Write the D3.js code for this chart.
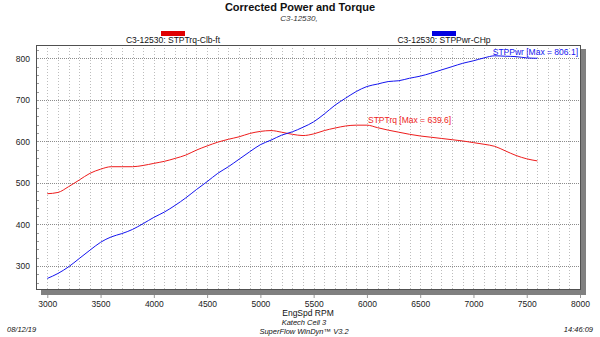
<!DOCTYPE html>
<html><head><meta charset="utf-8">
<script src="https://cdn.jsdelivr.net/npm/d3@7"></script>
<style>
body{margin:0;background:#fff;}
svg{display:block;font-family:"Liberation Sans",Arial,sans-serif;}
</style></head><body>
<svg id="c" width="600" height="337"></svg>
<script>
const rpm = [3000,3100,3200,3300,3400,3500,3600,3700,3800,3900,4000,4100,4200,4300,4400,4500,4600,4700,4800,4900,5000,5100,5200,5300,5400,5500,5600,5700,5800,5900,6000,6100,6200,6300,6400,6500,6600,6700,6800,6900,7000,7100,7200,7300,7400,7500,7600];
const torque = [474,477,491,507,523,533,539,539,539,542,547,552,559,567,579,589,598,605,611,619,624,626,622,617,614,618,626,632,637,639,639,633,627,622,617,613,610,607,604,601,597,593,588,577,566,558,553];
const power = [270,282,298,318,338,357,370,378,388,402,417,430,446,464,484,503,523,539,557,575,592,603,615,623,634,647,666,687,704,720,732,738,744,746,752,757,764,772,780,788,794,801,806,805,804,801,800];
const xTicks = [3000,3500,4000,4500,5000,5500,6000,6500,7000,7500,8000];
const yTicks = [300,400,500,600,700,800];
const xGrid = d3.range(3000,8000,100);
const yMinor = d3.range(260,832,20);
const titleText = "Corrected Power and Torque";
const subtitleText = "C3-12530,";
const seriesNames = ["C3-12530: STPTrq-Clb-ft","C3-12530: STPPwr-CHp"];
const maxLabels = ["STPTrq [Max = 639.6]","STPPwr [Max = 806.1]"];
const xTitle = "EngSpd RPM";
const footer = ["Katech Cell 3","SuperFlow WinDyn\u2122 V3.2","08/12/19","14:46:09"];

const svg = d3.select("#c");
const L=36,R=580,T=45,B=289;
const x = d3.scaleLinear().domain([2894,8000]).range([L,R]);
const y = d3.scaleLinear().domain([244.6,832]).range([B,T]);
const RED="#ee1c1c", BLUE="#1414f0";

// shadow
svg.append("rect").attr("x",R+1).attr("y",T+4).attr("width",5).attr("height",B-T+2).attr("fill","#808080");
svg.append("rect").attr("x",L+5).attr("y",B+1).attr("width",R-L+1).attr("height",5).attr("fill","#808080");

// vertical grid
svg.append("g").attr("transform",`translate(0,${B})`)
  .call(d3.axisBottom(x).tickValues(xGrid).tickSize(-(B-T)).tickFormat(""))
  .call(g=>g.select(".domain").remove())
  .call(g=>g.selectAll("line").attr("stroke","#bdbdbd").attr("stroke-dasharray","1,2").attr("shape-rendering","crispEdges"));
// horizontal grid
svg.append("g").attr("transform",`translate(${L},0)`)
  .call(d3.axisLeft(y).tickValues(yTicks).tickSize(-(R-L)).tickFormat(""))
  .call(g=>g.select(".domain").remove())
  .call(g=>g.selectAll("line").attr("stroke","#8c8c8c").attr("stroke-dasharray","1,1").attr("shape-rendering","crispEdges"));
// minor y ticks
svg.append("g").attr("transform",`translate(${L},0)`)
  .call(d3.axisRight(y).tickValues(yMinor).tickSize(3).tickFormat(""))
  .call(g=>g.select(".domain").remove())
  .call(g=>g.selectAll("line").attr("stroke","#999").attr("shape-rendering","crispEdges"));

// frame
svg.append("rect").attr("x",L+0.5).attr("y",T+0.5).attr("width",R-L).attr("height",B-T)
  .attr("fill","none").attr("stroke","#505050");

// y labels
svg.append("g").attr("transform",`translate(${L},0)`)
  .call(d3.axisLeft(y).tickValues(yTicks).tickSize(0).tickPadding(6).tickFormat(d3.format("d")))
  .call(g=>g.select(".domain").remove())
  .call(g=>g.selectAll("text").attr("font-size","8.5px").attr("fill","#222").attr("font-family","Liberation Sans, Arial"));
// x labels
svg.append("g").attr("transform",`translate(0,${B+6})`)
  .call(d3.axisBottom(x).tickValues(xTicks).tickSize(3).tickPadding(3).tickFormat(d3.format("d")))
  .call(g=>g.select(".domain").remove())
  .call(g=>g.selectAll("line").attr("stroke","#999"))
  .call(g=>g.selectAll("text").attr("font-size","8.5px").attr("fill","#222").attr("font-family","Liberation Sans, Arial"));

// lines
const line = vals => d3.line().x((d,i)=>x(rpm[i])).y(d=>y(d)).curve(d3.curveMonotoneX)(vals);
svg.append("path").attr("d",line(torque)).attr("fill","none").attr("stroke",RED).attr("stroke-width",1);
svg.append("path").attr("d",line(power)).attr("fill","none").attr("stroke",BLUE).attr("stroke-width",1);

// max labels
svg.append("text").attr("x",368).attr("y",123).attr("font-size","8.5px").attr("fill",RED).text(maxLabels[0]);
svg.append("text").attr("x",578).attr("y",55).attr("text-anchor","end").attr("font-size","8.5px").attr("fill",BLUE).text(maxLabels[1]);

// title
svg.append("text").attr("x",300).attr("y",11).attr("text-anchor","middle").attr("font-size","11px").attr("font-weight","bold").attr("fill","#111").text(titleText);
svg.append("text").attr("x",299).attr("y",21).attr("text-anchor","middle").attr("font-size","8px").attr("font-style","italic").attr("fill","#333").text(subtitleText);

// legend
const lg = [{cx:173,c:"#e00000"},{cx:444,c:"#0000e0"}];
lg.forEach((d,i)=>{
  svg.append("rect").attr("x",d.cx-12).attr("y",31).attr("width",24).attr("height",5).attr("fill",d.c);
  svg.append("text").attr("x",d.cx).attr("y",43).attr("text-anchor","middle").attr("font-size","8.5px").attr("fill","#111").text(seriesNames[i]);
});

// footer
svg.append("text").attr("x",308).attr("y",316).attr("text-anchor","middle").attr("font-size","8.5px").attr("fill","#111").text(xTitle);
svg.append("text").attr("x",304).attr("y",325).attr("text-anchor","middle").attr("font-size","7.5px").attr("font-style","italic").attr("fill","#111").text(footer[0]);
svg.append("text").attr("x",304).attr("y",334).attr("text-anchor","middle").attr("font-size","7.5px").attr("font-style","italic").attr("fill","#111").text(footer[1]);
svg.append("text").attr("x",7).attr("y",332).attr("font-size","7.5px").attr("font-style","italic").attr("fill","#111").text(footer[2]);
svg.append("text").attr("x",593).attr("y",332).attr("text-anchor","end").attr("font-size","7.5px").attr("font-style","italic").attr("fill","#111").text(footer[3]);
</script></body></html>
